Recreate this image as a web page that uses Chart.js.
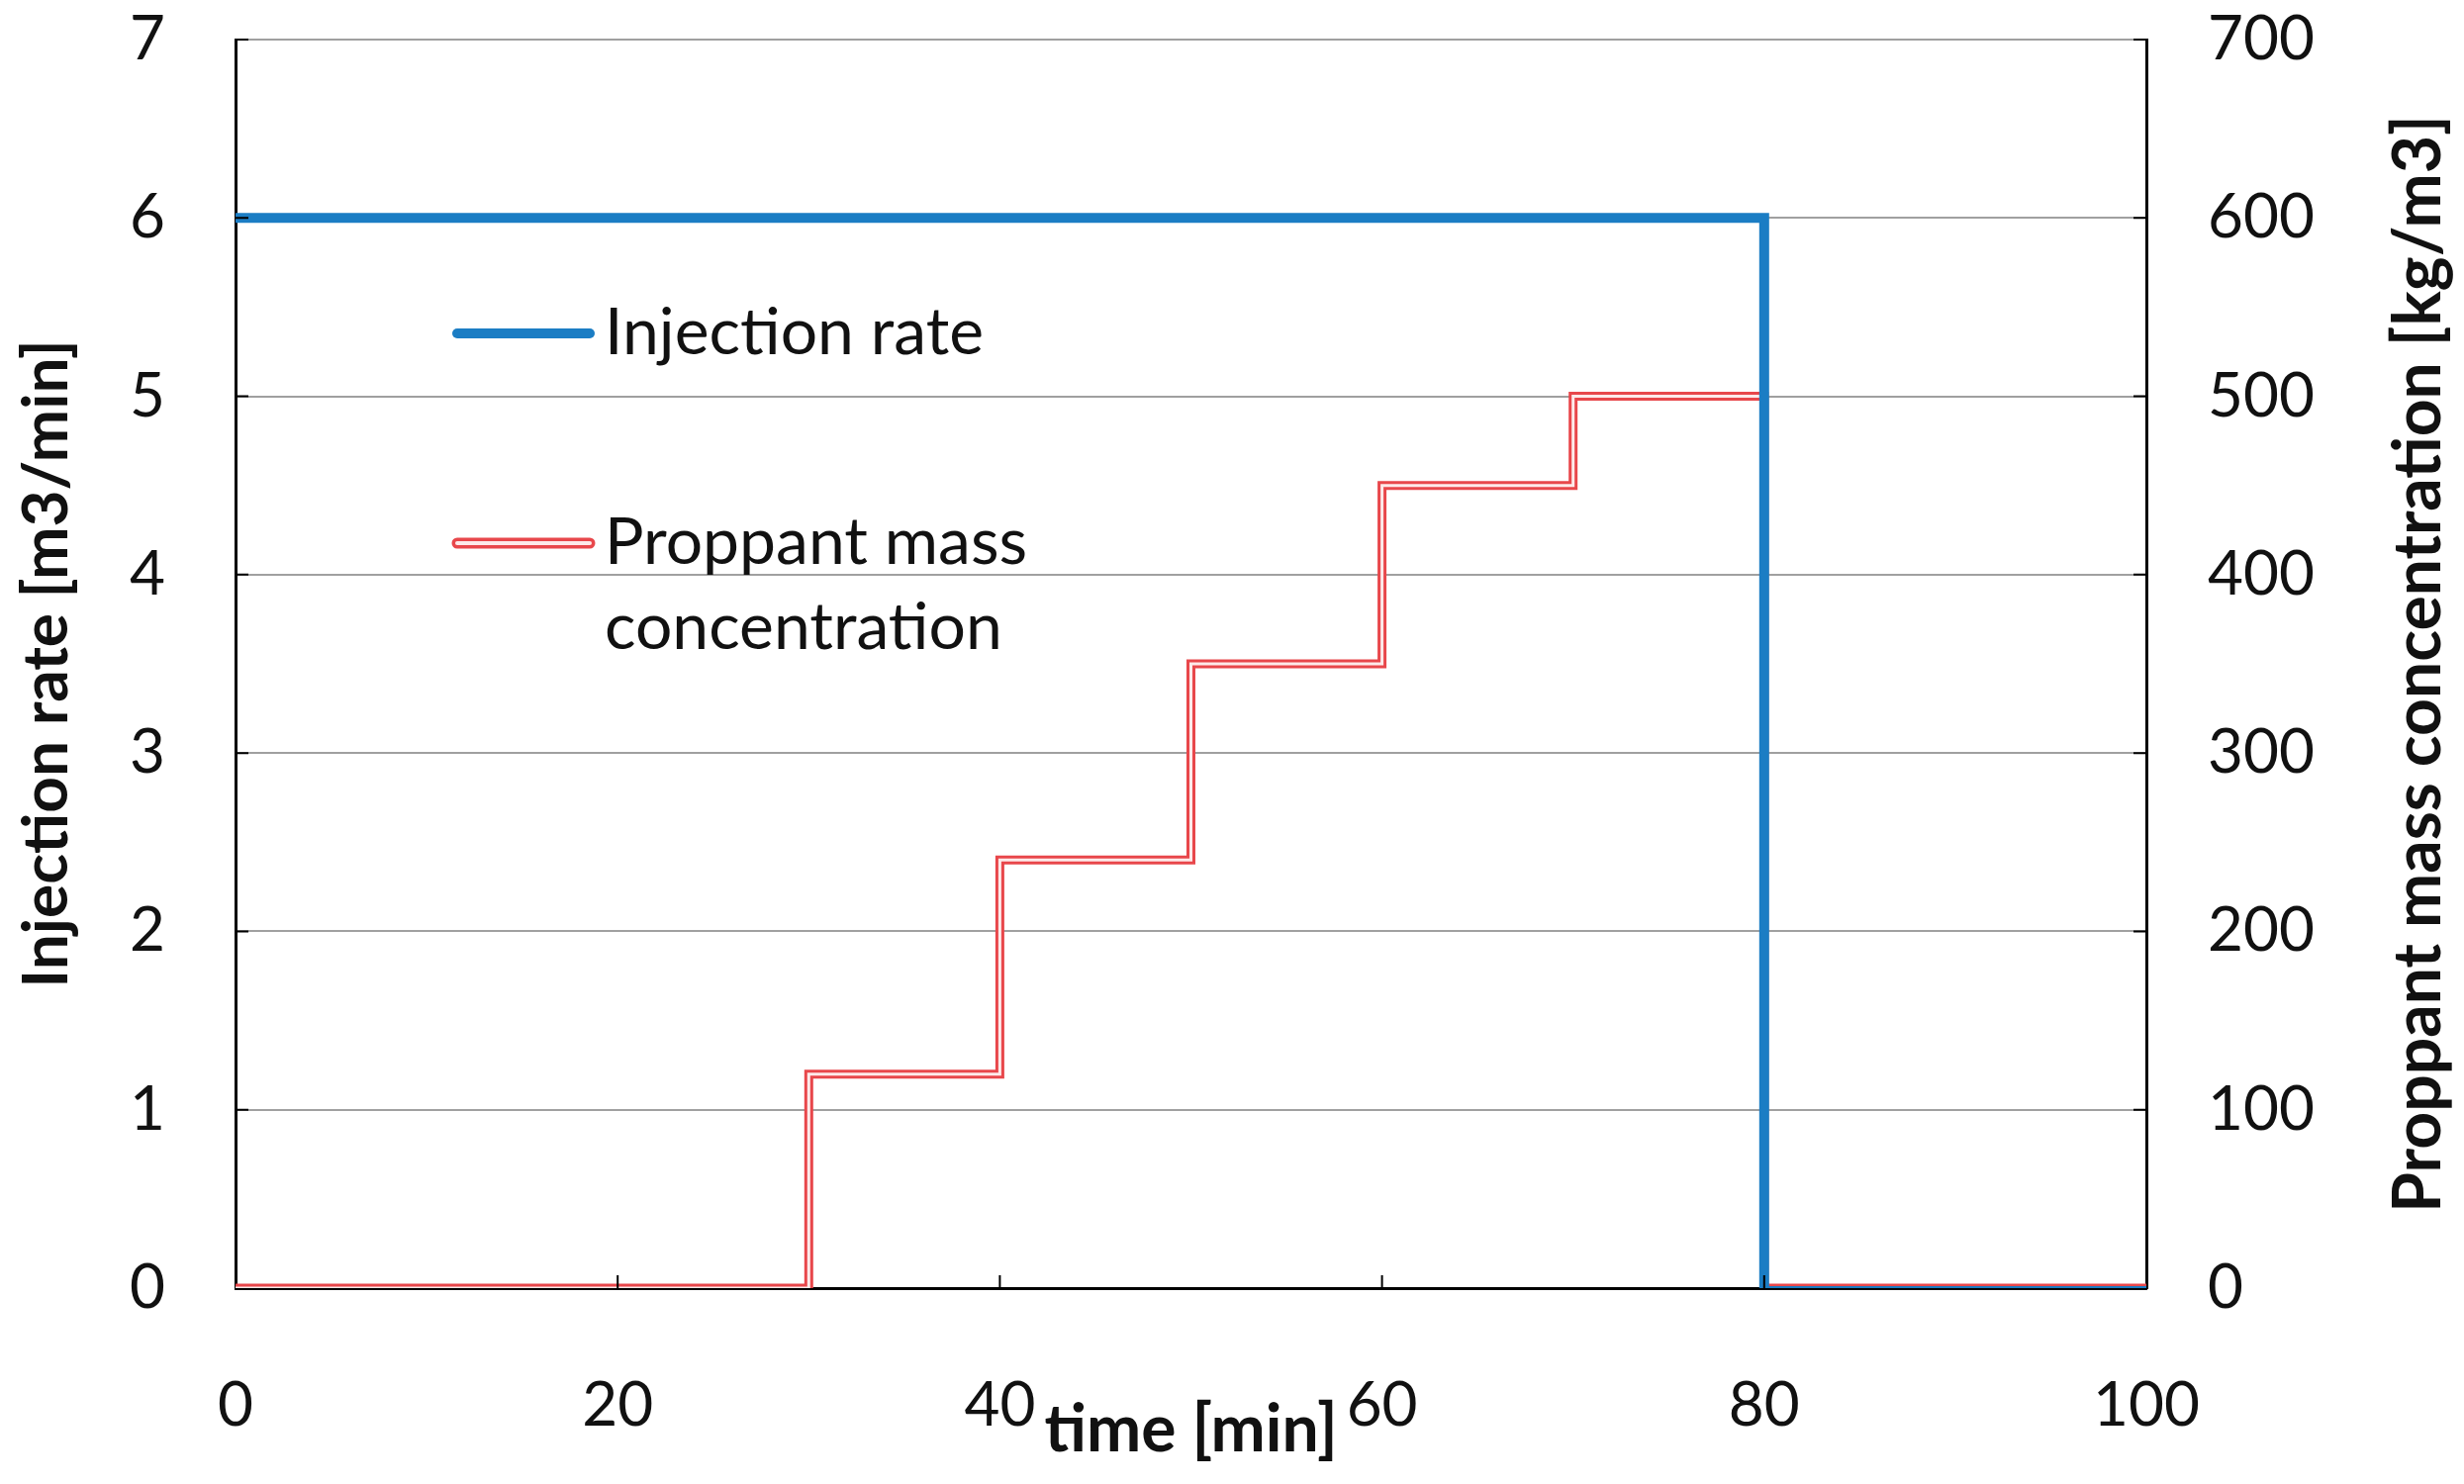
<!DOCTYPE html>
<html>
<head>
<meta charset="utf-8">
<script src="https://cdn.jsdelivr.net/npm/chart.js@4"></script>
<style>
    body { margin: 0; background: #fff; }
    #wrap { width: 2490px; height: 1500px; position: relative; }
</style>
</head>
<body>
<div id="wrap"><canvas id="chart"></canvas></div>
<script>
// stage start times [min] and the value held until the next one
const injectionTimes = [0, 80, 100];
const injectionRate = [6, 0, 0];                 // m3/min
const stageTimes = [0, 30, 40, 50, 60, 70, 80, 100];
const proppantConc = [0, 120, 240, 350, 450, 500, 0, 0];   // kg/m3

const xTicks = [0, 20, 40, 60, 80, 100];
const leftTicks = [0, 1, 2, 3, 4, 5, 6, 7];
const rightTicks = [0, 100, 200, 300, 400, 500, 600, 700];

const FONT = 'Lato';
const BLUE = '#1b7dc4';
const RED = '#e8474b';
const INNER = '#fdeaea';

const toPoints = (xs, ys) => xs.map((x, i) => ({ x: x, y: ys[i] }));

// legend, right axis title and inward tick marks
const extras = {
    id: 'extras',
    afterDraw(chart) {
        const ctx = chart.ctx;
        const area = chart.chartArea;
        const x = chart.scales.x, y = chart.scales.y, y1 = chart.scales.y1;

        ctx.save();
        ctx.strokeStyle = '#000';
        ctx.lineWidth = 2;
        ctx.beginPath();
        xTicks.slice(1, -1).forEach(v => {
            const px = x.getPixelForValue(v);
            ctx.moveTo(px, area.bottom);
            ctx.lineTo(px, area.bottom - 13);
        });
        leftTicks.slice(1).forEach(v => {
            const py = y.getPixelForValue(v);
            ctx.moveTo(area.left, py);
            ctx.lineTo(area.left + 13, py);
        });
        rightTicks.slice(1).forEach(v => {
            const py = y1.getPixelForValue(v);
            ctx.moveTo(area.right, py);
            ctx.lineTo(area.right - 13, py);
        });
        ctx.stroke();

        // legend
        ctx.lineCap = 'round';
        ctx.strokeStyle = BLUE;
        ctx.lineWidth = 10;
        ctx.beginPath();
        ctx.moveTo(462, 337);
        ctx.lineTo(596, 337);
        ctx.stroke();

        ctx.strokeStyle = RED;
        ctx.lineWidth = 11;
        ctx.beginPath();
        ctx.moveTo(462, 549);
        ctx.lineTo(596, 549);
        ctx.stroke();
        ctx.strokeStyle = INNER;
        ctx.lineWidth = 4;
        ctx.beginPath();
        ctx.moveTo(462, 549);
        ctx.lineTo(596, 549);
        ctx.stroke();

        ctx.fillStyle = '#111';
        ctx.font = '66px ' + FONT;
        ctx.textBaseline = 'middle';
        ctx.textAlign = 'left';
        ctx.fillText('Injection rate', 611, 337);
        ctx.fillText('Proppant mass', 611, 549);
        ctx.fillText('concentration', 611, 635);

        // right axis title, reading bottom to top
        ctx.translate(2445, (area.top + area.bottom) / 2);
        ctx.rotate(-Math.PI / 2);
        ctx.textAlign = 'center';
        ctx.font = 'bold 66px ' + FONT;
        ctx.fillText('Proppant mass concentration [kg/m3]', 0, 0);
        ctx.restore();
    }
};

const noPad = scale => {
    scale.paddingTop = 0;
    scale.paddingBottom = 0;
};

new Chart(document.getElementById('chart'), {
    type: 'line',
    data: {
        datasets: [
            {
                label: 'Injection rate',
                data: toPoints(injectionTimes, injectionRate),
                yAxisID: 'y',
                stepped: 'before',
                borderColor: BLUE,
                borderWidth: 10,
                // thinner where it lies on top of the proppant line
                segment: { borderWidth: c => c.p0.parsed.x >= 80 ? 4 : 10 },
                pointRadius: 0,
                order: 0
            },
            {
                label: 'Proppant inner',
                data: toPoints(stageTimes, proppantConc),
                yAxisID: 'y1',
                stepped: 'before',
                borderColor: INNER,
                borderWidth: 3,
                pointRadius: 0,
                order: 1
            },
            {
                label: 'Proppant mass concentration',
                data: toPoints(stageTimes, proppantConc),
                yAxisID: 'y1',
                stepped: 'before',
                borderColor: RED,
                borderWidth: 9,
                pointRadius: 0,
                order: 2
            }
        ]
    },
    options: {
        responsive: true,
        maintainAspectRatio: false,
        devicePixelRatio: 1,
        animation: false,
        layout: { padding: { top: 40, left: 0, right: 0, bottom: 0 } },
        plugins: {
            legend: { display: false },
            tooltip: { enabled: false }
        },
        scales: {
            x: {
                type: 'linear',
                min: 0,
                max: 100,
                afterBuildTicks: scale => { scale.ticks = xTicks.map(v => ({ value: v })); },
                grid: { display: false },
                border: { display: true, color: '#000', width: 3 },
                ticks: {
                    padding: 74,
                    color: '#111',
                    font: { family: FONT, size: 62 }
                },
                title: {
                    display: true,
                    text: 'time [min]',
                    color: '#111',
                    padding: { top: 0, bottom: 15 },
                    font: { family: FONT, size: 66, weight: 'bold' }
                },
                afterFit: scale => { scale.height = 198; }
            },
            y: {
                position: 'left',
                min: 0,
                max: 7,
                afterBuildTicks: scale => { scale.ticks = leftTicks.map(v => ({ value: v })); },
                grid: { color: '#a0a0a0', lineWidth: 2, drawTicks: false },
                border: { display: true, color: '#000', width: 3 },
                ticks: {
                    padding: 71,
                    color: '#111',
                    font: { family: FONT, size: 62 }
                },
                title: {
                    display: true,
                    text: 'Injection rate [m3/min]',
                    color: '#111',
                    padding: { top: 9, bottom: 0 },
                    font: { family: FONT, size: 64, weight: 'bold' }
                },
                afterFit: scale => { scale.width = 238; noPad(scale); }
            },
            y1: {
                position: 'right',
                min: 0,
                max: 700,
                afterBuildTicks: scale => { scale.ticks = rightTicks.map(v => ({ value: v })); },
                grid: { display: false, drawTicks: false },
                border: { display: true, color: '#000', width: 3 },
                ticks: {
                    padding: 62,
                    color: '#111',
                    font: { family: FONT, size: 62 }
                },
                afterFit: scale => { scale.width = 321; noPad(scale); }
            }
        }
    },
    plugins: [extras]
});
</script>
</body>
</html>
